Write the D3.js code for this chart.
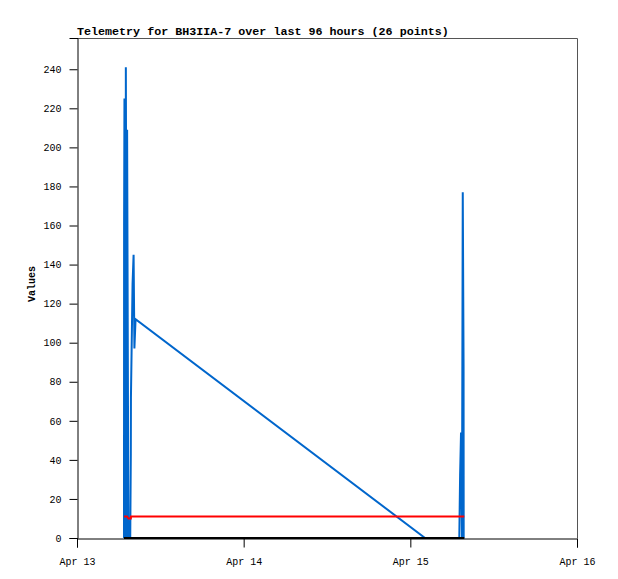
<!DOCTYPE html>
<html>
<head>
<meta charset="utf-8">
<script src="https://cdn.jsdelivr.net/npm/d3@7"></script>
<style>
  html, body { margin: 0; padding: 0; background: #fff; }
  svg { display: block; }
  text { font-family: "Liberation Mono", "DejaVu Sans Mono", monospace; }
</style>
</head>
<body>
<svg id="chart" width="618" height="579"></svg>
<script>
// ---- data ----
const titleText = "Telemetry for BH3IIA-7 over last 96 hours (26 points)";
const yLabel = "Values";
const times = [
  "2024-04-13T06:46", "2024-04-13T06:47", "2024-04-13T06:50", "2024-04-13T07:01",
  "2024-04-13T07:02", "2024-04-13T07:12", "2024-04-13T07:13", "2024-04-13T07:24",
  "2024-04-13T07:36", "2024-04-13T07:40", "2024-04-13T07:45", "2024-04-13T07:46",
  "2024-04-13T07:53", "2024-04-13T08:00", "2024-04-13T08:09", "2024-04-13T08:16",
  "2024-04-13T08:26", "2024-04-15T02:07", "2024-04-15T07:03", "2024-04-15T07:10",
  "2024-04-15T07:18", "2024-04-15T07:26", "2024-04-15T07:33", "2024-04-15T07:40",
  "2024-04-15T07:41", "2024-04-15T07:46"
];
const blueValues = [
  0, 160, 225, 0, 241, 0, 209, 0,
  0, 0, 43, 72, 101, 130, 145, 97,
  112, 0, 0, 32, 54, 0, 177, 88,
  0, 0
];
const redValues = [
  11, 11, 11, 11, 11, 11, 11, 10,
  10, 10, 10, 11, 11, 11, 11, 11,
  11, 11, 11, 11, 11, 11, 11, 11,
  11, 11
];
const blackValues = [
  0, 0, 0, 0, 0, 0, 0, 0,
  0, 0, 0, 0, 0, 0, 0, 0,
  0, 0, 0, 0, 0, 0, 0, 0,
  0, 0
];
const xDomain = ["2024-04-13T00:00", "2024-04-16T00:00"];
const yDomain = [0, 256];
const yTicks = [0, 20, 40, 60, 80, 100, 120, 140, 160, 180, 200, 220, 240];

(function () {
// ---- layout ----
const svg = d3.select("#chart");
const mLeft = 77, mRight = 577, mTop = 38, mBottom = 538;
const parse = s => new Date(s + ":00Z");

const x = d3.scaleUtc().domain(xDomain.map(parse)).range([mLeft, mRight]);
const y = d3.scaleLinear().domain(yDomain).range([mBottom, mTop]);

// frame (top + right)
svg.append("path")
  .attr("d", `M${mLeft},${mTop + 0.5}H${mRight + 0.5}V${mBottom}`)
  .attr("fill", "none").attr("stroke", "#555").attr("stroke-width", 1);

// series
const line = d3.line().x(d => x(d[0])).y(d => y(d[1]));
const series = [
  { vals: blueValues, color: "#0066cc" },
  { vals: redValues, color: "#ff0000" },
  { vals: blackValues, color: "#000000" }
];
series.forEach(s => {
  const pts = times.map((t, i) => [parse(t), s.vals[i]]);
  svg.append("path").datum(pts)
    .attr("d", line)
    .attr("fill", "none")
    .attr("stroke", s.color)
    .attr("stroke-width", 2)
    .attr("stroke-linejoin", "miter");
});

// y axis
const yAxis = svg.append("g")
  .attr("transform", `translate(${mLeft + 0.5},0)`)
  .call(d3.axisLeft(y).tickValues(yTicks).tickSize(8).tickPadding(8).tickFormat(d3.format("d")));
yAxis.selectAll("text").attr("font-size", "10px").attr("fill", "#000")
  .style("font-family", '"Liberation Mono", "DejaVu Sans Mono", monospace');
yAxis.select(".domain").attr("stroke", "#000");
yAxis.selectAll(".tick line").attr("stroke", "#000");

// x axis
const xAxis = svg.append("g")
  .attr("transform", `translate(0,${mBottom + 0.5})`)
  .call(d3.axisBottom(x).ticks(d3.utcDay.every(1)).tickSize(9).tickPadding(10)
    .tickFormat(d3.utcFormat("%b %d")));
xAxis.selectAll("text").attr("font-size", "10px").attr("fill", "#000")
  .style("font-family", '"Liberation Mono", "DejaVu Sans Mono", monospace');
xAxis.select(".domain").attr("stroke", "#000");
xAxis.selectAll(".tick line").attr("stroke", "#000");

// title
svg.append("text")
  .attr("x", mLeft).attr("y", 35)
  .attr("font-size", "11.7px").attr("font-weight", "bold")
  .text(titleText);

// y label
svg.append("text")
  .attr("transform", `translate(35,${(mTop + mBottom) / 2 - 4}) rotate(-90)`)
  .attr("text-anchor", "middle")
  .attr("font-size", "10px").attr("font-weight", "bold")
  .text(yLabel);
})();
</script>
</body>
</html>
